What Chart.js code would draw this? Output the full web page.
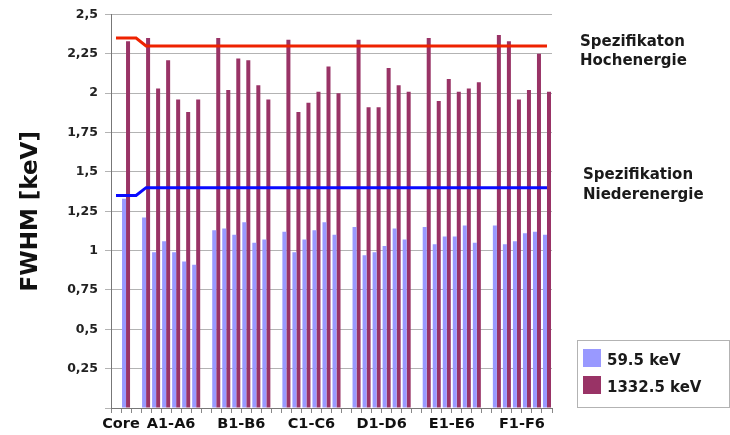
<!DOCTYPE html>
<html>
<head>
<meta charset="utf-8">
<script src="https://cdn.jsdelivr.net/npm/chart.js@4.4.1/dist/chart.umd.min.js"></script>
<style>
  html, body { margin: 0; padding: 0; background: #ffffff; }
  #wrap { width: 730px; height: 435px; }
</style>
</head>
<body>
<div id="wrap"><canvas id="c" width="730" height="435"></canvas></div>
<script>
// ---- Data ----
const categories = ['', 'Core', '',
  'A1','A2','A3','A4','A5','A6', '',
  'B1','B2','B3','B4','B5','B6', '',
  'C1','C2','C3','C4','C5','C6', '',
  'D1','D2','D3','D4','D5','D6', '',
  'E1','E2','E3','E4','E5','E6', '',
  'F1','F2','F3','F4','F5','F6'];

const groupLabels = ['Core', 'A1-A6', 'B1-B6', 'C1-C6', 'D1-D6', 'E1-E6', 'F1-F6'];

const fwhmLow = [null, 1.33, null,
  1.21, 0.99, 1.06, 0.99, 0.93, 0.91, null,
  1.13, 1.14, 1.10, 1.18, 1.05, 1.07, null,
  1.12, 0.99, 1.07, 1.13, 1.18, 1.10, null,
  1.15, 0.97, 0.99, 1.03, 1.14, 1.07, null,
  1.15, 1.04, 1.09, 1.09, 1.16, 1.05, null,
  1.16, 1.04, 1.06, 1.11, 1.12, 1.10];

const fwhmHigh = [null, 2.33, null,
  2.35, 2.03, 2.21, 1.96, 1.88, 1.96, null,
  2.35, 2.02, 2.22, 2.21, 2.05, 1.96, null,
  2.34, 1.88, 1.94, 2.01, 2.17, 2.00, null,
  2.34, 1.91, 1.91, 2.16, 2.05, 2.01, null,
  2.35, 1.95, 2.09, 2.01, 2.03, 2.07, null,
  2.37, 2.33, 1.96, 2.02, 2.25, 2.01];

const specHigh = [2.35, 2.35, 2.35,
  2.3, 2.3, 2.3, 2.3, 2.3, 2.3, 2.3,
  2.3, 2.3, 2.3, 2.3, 2.3, 2.3, 2.3,
  2.3, 2.3, 2.3, 2.3, 2.3, 2.3, 2.3,
  2.3, 2.3, 2.3, 2.3, 2.3, 2.3, 2.3,
  2.3, 2.3, 2.3, 2.3, 2.3, 2.3, 2.3,
  2.3, 2.3, 2.3, 2.3, 2.3, 2.3];

const specLow = [1.35, 1.35, 1.35,
  1.4, 1.4, 1.4, 1.4, 1.4, 1.4, 1.4,
  1.4, 1.4, 1.4, 1.4, 1.4, 1.4, 1.4,
  1.4, 1.4, 1.4, 1.4, 1.4, 1.4, 1.4,
  1.4, 1.4, 1.4, 1.4, 1.4, 1.4, 1.4,
  1.4, 1.4, 1.4, 1.4, 1.4, 1.4, 1.4,
  1.4, 1.4, 1.4, 1.4, 1.4, 1.4];

const seriesNames = ['59.5 keV', '1332.5 keV'];
const specNames = [['Spezifikaton', 'Hochenergie'], ['Spezifikation', 'Niederenergie']];
const yTitle = 'FWHM [keV]';

// ---- Styling ----
const FONT = '"DejaVu Sans", sans-serif';
const colLow = '#9999ff';
const colHigh = '#993366';
const colSpecHigh = '#ee2200';
const colSpecLow = '#0a0aff';

// index at which each group label is shown (label is shifted by half a category)
const groupTickIndex = {};
groupTickIndex[categories.indexOf('Core') - 1] = groupLabels[0];
groupLabels.slice(1).forEach(g => { groupTickIndex[categories.indexOf(g[0] + '3')] = g; });

const annotationPlugin = {
  id: 'annot',
  afterDraw(chart) {
    const ctx = chart.ctx;
    const y = chart.scales.y;
    ctx.save();
    ctx.fillStyle = '#1a1a1a';
    ctx.font = 'bold 15px ' + FONT;
    ctx.textAlign = 'left';
    ctx.textBaseline = 'alphabetic';
    const yh = y.getPixelForValue(specHigh[specHigh.length - 1]);
    ctx.fillText(specNames[0][0], 580, yh + 0.5);
    ctx.fillText(specNames[0][1], 580, yh + 19.5);
    const yl = y.getPixelForValue(specLow[specLow.length - 1]);
    ctx.fillText(specNames[1][0], 583, yl - 9);
    ctx.fillText(specNames[1][1], 583, yl + 11);

    // legend box
    ctx.strokeStyle = '#b3b3b3';
    ctx.lineWidth = 1;
    ctx.strokeRect(577.5, 340.5, 152, 67);
    const ds = chart.data.datasets.filter(d => d.type === 'bar' || !d.type);
    ds.forEach((d, i) => {
      const top = 349 + i * 27;
      ctx.fillStyle = d.backgroundColor;
      ctx.fillRect(583, top, 18, 18);
      ctx.fillStyle = '#1a1a1a';
      ctx.font = 'bold 15px ' + FONT;
      ctx.fillText(d.label, 607, top + 16);
    });
    ctx.restore();
  }
};

new Chart(document.getElementById('c'), {
  type: 'bar',
  data: {
    labels: categories,
    datasets: [
      { type: 'bar', label: seriesNames[0], data: fwhmLow, backgroundColor: colLow,
        categoryPercentage: 0.8, barPercentage: 1.0, order: 2 },
      { type: 'bar', label: seriesNames[1], data: fwhmHigh, backgroundColor: colHigh,
        categoryPercentage: 0.8, barPercentage: 1.0, order: 2 },
      { type: 'line', label: 'specHigh', data: specHigh, borderColor: colSpecHigh, borderWidth: 3,
        pointRadius: 0, tension: 0, fill: false, order: 0 },
      { type: 'line', label: 'specLow', data: specLow, borderColor: colSpecLow, borderWidth: 3,
        pointRadius: 0, tension: 0, fill: false, order: 0 }
    ]
  },
  options: {
    responsive: false,
    animation: false,
    devicePixelRatio: 1,
    layout: { padding: { left: 0, right: 178, top: 13, bottom: 0 } },
    plugins: { legend: { display: false }, tooltip: { enabled: false } },
    scales: {
      x: {
        afterFit(s) { s.height = 27; },
        grid: { display: true, drawOnChartArea: false, drawTicks: true, tickLength: 5, color: '#888', offset: true },
        border: { display: true, color: '#777' },
        ticks: {
          autoSkip: false, maxRotation: 0, minRotation: 0, padding: 3, labelOffset: 5,
          color: '#111', font: { family: FONT, weight: 'bold', size: 14.5 },
          callback: (v, i) => groupTickIndex[i] || ''
        }
      },
      y: {
        min: 0, max: 2.5,
        afterFit(s) { s.width = 111; },
        grid: { color: '#b3b3b3', lineWidth: 1, drawTicks: true, tickLength: 6 },
        border: { display: true, color: '#777' },
        ticks: {
          stepSize: 0.25, padding: 7, color: '#222',
          font: { family: FONT, weight: 'bold', size: 12.5 },
          callback: v => v === 0 ? '' : String(Math.round(v * 100) / 100).replace('.', ',')
        },
        title: {
          display: true, text: yTitle, color: '#111',
          font: { family: FONT, weight: 'bold', size: 23 },
          padding: { top: 17, bottom: 0 }
        }
      }
    }
  },
  plugins: [annotationPlugin]
});
</script>
</body>
</html>
